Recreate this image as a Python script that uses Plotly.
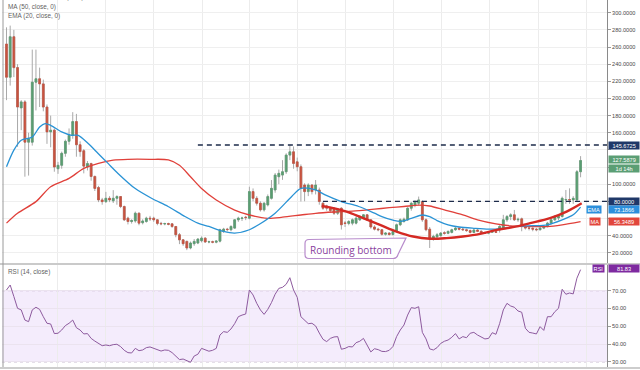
import numpy as np
import pandas as pd
import plotly.graph_objects as go

# ---------------- data (weekly LTC) ----------------
start_week = "2017-12-25"
opens = [263.5, 224.8, 272, 236, 189, 196, 149, 149, 219, 223, 217, 190, 161, 163, 118, 122, 136, 150, 157, 173,
         146, 139, 120, 124, 109, 96, 81.6, 79.6, 83.5, 80.5, 83.5, 85.5, 73.9, 60.3, 56.4, 57, 66.1, 55, 56.4, 60.3,
         60.3, 58.4, 54.2, 53.5, 54, 53.7, 50.6, 41, 35, 33.2, 25.5, 30.5, 31.3, 34, 37, 32.5, 32.8, 32.3, 33.5, 44.8,
         47.5, 46.8, 48.7, 58.4, 60, 61.5, 60.3, 91.3, 83.5, 77.7, 70, 75.8, 83.5, 93.2, 108.7, 110.6, 114.5, 133.9, 137.7, 126,
         120.3, 99, 91.3, 99, 93.2, 93.2, 77.7, 74.6, 71.9, 71.9, 66.1, 71.9, 54.8, 54.2, 54.5, 54.5, 58.4, 60.3, 64.2, 58.4,
         50, 47.5, 46.8, 41.5, 42.9, 41.2, 44.8, 52.6, 56.4, 58.4, 71.9, 75.8, 77.7, 79.7, 58.4, 47.5, 37.1, 38.5, 40, 43.3,
         42.6, 43.7, 46.8, 48.7, 47.5, 46.8, 45.8, 43.7, 46.5, 45, 43.2, 42.8, 44, 44.6, 46.5, 48.7, 58.4, 62.2, 64.2, 58.4,
         59.5, 50.6, 48.7, 48.5, 47.5, 46.8, 48.7, 50.6, 54.5, 58.4, 60.5, 62.2, 81.6, 82, 81.6, 81.6, 114.5]
highs = [283, 285, 280, 240, 198, 198, 160, 257, 257, 236, 222, 193, 180, 165, 126, 138, 152, 165, 184, 182,
         150, 141, 127, 125, 110, 98, 84, 91, 86, 93, 87, 86, 75, 62, 59, 68, 67, 59, 62, 63,
         62, 59, 56, 55, 55, 54, 51, 43, 36, 34, 33, 36, 37, 39, 38, 34, 34, 34.5, 48, 49,
         49, 52, 59, 62, 62, 63, 97, 95, 86, 80, 79, 88, 104.8, 113, 117, 128, 136, 145.5, 144, 131,
         123, 101, 101, 100, 104.8, 96, 79, 76, 73, 73, 72, 73, 57, 58, 60, 62.2, 64, 65, 65, 59,
         52, 49, 47.5, 44, 44, 45.5, 54, 60, 61, 73, 79, 81, 85.5, 81, 60, 50, 41, 43, 44, 45,
         46, 48, 50, 50, 49, 48, 47, 47.5, 47.5, 46, 44.5, 45, 45.5, 46, 52, 64.2, 64, 66, 69.9, 61,
         61, 52, 50, 49.5, 49, 50, 52, 56, 60, 64, 64, 85.5, 93.2, 95.1, 86, 116.4, 132.7]
lows = [198, 215, 225, 143.5, 163, 108.7, 110, 145, 186, 190, 185, 147, 143, 114.5, 112, 118, 132, 146, 153, 132,
        132, 112.6, 116, 104, 92, 79, 76, 78, 79, 78, 76, 72, 57, 53, 54, 55, 52, 53, 55, 57,
        56, 52, 52, 52, 52, 49, 38, 30, 28, 23, 24, 28, 30, 32, 31.5, 31, 31, 31, 32, 43,
        45, 45, 48, 56, 57, 58, 59, 80, 75, 68, 68, 74, 82, 90, 100, 105, 112, 128, 118, 115,
        79.7, 80, 86, 88, 88, 76, 70, 69, 67, 64, 64, 47, 50, 52, 52, 53, 57, 59, 57, 48,
        46, 45, 40, 40, 40, 40, 43.5, 51, 55, 57, 69, 73, 75, 56, 45, 25.5, 34, 37, 38.5, 41,
        41.5, 42.5, 45.5, 46, 45.5, 44.5, 42.5, 43, 44, 42, 42, 41.5, 43, 43, 43.5, 48, 56, 58, 57, 56,
        45, 47, 46, 45, 45, 46, 47.5, 49.5, 53, 57, 58, 61, 77, 77, 77, 79, 108]
closes = [224.8, 272, 236, 190, 196, 149, 153, 219, 223, 217, 190, 161, 163, 120, 122, 136, 150, 157, 173, 146,
          138, 121, 124, 109, 95, 81.6, 79.6, 83.5, 81.6, 83.5, 85.5, 73.9, 58.4, 56.4, 57.5, 66.1, 54.5, 57, 60.3, 59.5,
          58.4, 54.2, 53.7, 54, 53.2, 50.6, 41, 35, 30.5, 25.5, 31.3, 33.2, 35.9, 37, 32.5, 32.8, 32.3, 33.5, 46.8, 47.5,
          47, 50.6, 58.4, 60.3, 60.5, 61, 91.3, 83.5, 77.7, 70, 77.7, 85.5, 95.1, 110.6, 112.6, 114.5, 133.9, 137.7, 124.2, 120.3,
          95.1, 91.3, 99, 91.3, 99, 79.7, 71.9, 71.9, 69.2, 66.1, 70.8, 52.6, 54.2, 56.4, 58.4, 60.3, 62.2, 64.2, 58.4, 50,
          47.5, 46.8, 41.5, 42.9, 41.2, 44.8, 52.6, 58.4, 59.1, 71.9, 77.7, 79.7, 81.6, 58.4, 46.8, 37.1, 39, 41, 42.9, 42.6,
          44.8, 46.8, 48.7, 47.5, 46.8, 45.8, 43.7, 46.5, 45, 43.2, 42.8, 44, 44.6, 43.8, 50.6, 58.4, 62.2, 64.2, 58.4, 59,
          50.6, 48.7, 48.5, 47.5, 46.8, 48.7, 50.6, 54.5, 58.4, 62.2, 62.2, 83.5, 82, 81.6, 83.5, 114.5, 127.59]

rsi = [70.4, 73.2, 66.7, 60.1, 59.2, 53.5, 52.6, 59.2, 60.7, 59.5, 55.4, 51.7, 51.3, 45.9, 46.1, 47.9, 50.4, 51.7, 53.5, 49.2,
       47.9, 45.7, 45.9, 43.2, 41.7, 40.2, 39.1, 39.5, 39.1, 39.7, 39.9, 38.6, 36.5, 35.2, 35.0, 37.6, 36.3, 36.7, 38.0, 38.4,
       37.6, 36.5, 36.1, 36.7, 36.5, 35.2, 33.5, 31.3, 31.6, 30.5, 29.8, 33.3, 34.3, 37.6, 36.7, 36.0, 36.5, 37.6, 45.1, 47.0,
       46.6, 48.5, 51.5, 55.4, 56.3, 56.9, 70.4, 67.6, 62.9, 59.2, 56.7, 59.5, 63.3, 68.0, 71.3, 71.9, 73.6, 77.3, 70.4, 66.3,
       55.4, 53.7, 51.5, 51.7, 50.2, 46.2, 42.7, 41.4, 43.2, 44.0, 44.2, 37.1, 37.6, 38.6, 38.4, 40.8, 41.6, 43.2, 39.5, 35.6,
       37.4, 36.9, 35.9, 35.8, 36.5, 38.6, 44.2, 47.9, 50.7, 56.3, 60.5, 60.1, 61.0, 46.6, 42.9, 37.3, 36.7, 38.0, 40.4, 41.6,
       42.3, 43.8, 45.9, 42.9, 44.2, 43.6, 46.1, 46.6, 45.1, 44.0, 42.9, 43.2, 46.4, 45.5, 51.5, 59.2, 62.9, 61.4, 60.7, 58.6,
       57.9, 48.9, 46.6, 46.2, 45.7, 49.8, 47.7, 55.4, 55.4, 58.2, 60.1, 70.8, 68.0, 68.7, 68.2, 77.0, 81.83]

ma50_week = [0, 3, 8, 12, 17, 21, 25, 29, 33, 39, 44, 47, 50, 53, 57, 62, 66, 71, 75, 80, 84, 89, 94, 100, 104,
             108, 112, 115, 119, 124, 128, 133, 137, 142, 147, 151, 156]
ma50_val = [54.5, 66, 79.6, 97, 106.7, 118.4, 124.2, 128, 129, 129, 128.3, 122, 108.7, 95, 81.5, 69.8, 64, 60.1, 61.4,
            64, 66, 67.5, 68.5, 70.8, 72.5, 73.9, 75.5, 74.5, 70, 64.2, 58.4, 53.7, 51.4, 50.5, 50.5, 52.6, 56.35]

ema20_week = [0, 2, 4, 7, 9, 10.5, 12, 15, 17.7, 19.5, 22.2, 24.9, 27.6, 30.3, 34.9, 39.4, 43.9, 48.5, 52, 55, 59,
              62, 66, 68.5, 73, 77.5, 80, 84, 86.6, 91, 95.7, 100, 102, 105, 107, 110, 113, 115, 117, 120, 123, 127,
              131, 135, 139, 143, 147, 151, 154, 156]
ema20_val = [120.3, 139.7, 151.2, 155, 166.7, 170.6, 168.7, 161, 157, 157, 147.4, 135.8, 124.2, 112.5, 95.1, 83.5, 73.9,
             62.2, 54.5, 50.6, 44.8, 42.9, 46.8, 52.6, 66.1, 85.5, 95.1, 93.2, 87.4, 79.7, 73.9, 66.1, 62.2, 58, 56.5,
             60, 64, 62, 57.5, 52.5, 50, 48.5, 47.5, 48.5, 51, 51.5, 52.6, 58.4, 64.2, 73.19]

arc_week = [85.65, 92.4, 96.9, 101.5, 106.0, 110.5, 115.1, 119.6, 124.0, 128.7, 133.2, 137.6, 142.3, 147.7, 152.2, 156.3]
arc_val = [74.6, 68, 60.3, 52.5, 44.7, 38.9, 36.3, 37, 38.9, 42, 46.7, 49.8, 54.5, 60.3, 68, 77.7]

price_ticks = [20, 40, 60, 80, 100, 120, 140, 160, 180, 200, 220, 240, 260, 280, 300]
# labels hidden under the price tags on the axis are left blank
price_tick_labels = ["20.0000", "40.0000", "", "", "100.0000", "", "", "160.0000", "180.0000", "200.0000",
                     "220.0000", "240.0000", "260.0000", "280.0000", "300.0000"]
rsi_ticks = [30, 40, 50, 60, 70]
rsi_tick_labels = ["30.00", "40.00", "50.00", "60.00", "70.00"]
resistance = 145.6725
resistance_from_week = 52
support = 80.0
support_from_week = 86
last_close = 127.5879
ema_last = 73.1866
ma_last = 56.3489
rsi_last = 81.83
title_text = "Litecoin / TetherUS, 1W, BINANCE"

# ---------------- geometry ----------------
W, H = 640, 370
ML, MR, MT, MB = 2, 33, 0, 3
PW, PH = W - ML - MR, H - MT - MB


def pxx(px):
    return (px - ML) / PW


def pxy(py):
    return (H - MB - py) / PH


t0 = pd.Timestamp(start_week)
dates = pd.date_range(t0, periods=len(opens), freq="7D")


def wk(w):
    return t0 + pd.Timedelta(days=7 * w)


px_per_week = 3.68
x_start = t0 - pd.Timedelta(days=(6.5 - ML) / px_per_week * 7)
x_end = x_start + pd.Timedelta(days=PW / px_per_week * 7)

RED = "#c8533f"
GREEN = "#5a9e72"
WICK = "#a9a9a9"

o = np.array(opens)
c = np.array(closes)

fig = go.Figure()
# wicks
fig.add_trace(go.Candlestick(
    x=dates, open=opens, high=highs, low=lows, close=closes,
    increasing=dict(line=dict(color=WICK, width=1), fillcolor=WICK),
    decreasing=dict(line=dict(color=WICK, width=1), fillcolor=WICK),
    whiskerwidth=0, xaxis="x", yaxis="y", hoverinfo="skip", showlegend=False))
# bodies
fig.add_trace(go.Candlestick(
    x=dates, open=opens, high=np.maximum(o, c), low=np.minimum(o, c), close=closes,
    increasing=dict(line=dict(color=GREEN, width=0.6), fillcolor=GREEN),
    decreasing=dict(line=dict(color=RED, width=0.6), fillcolor=RED),
    whiskerwidth=0, xaxis="x", yaxis="y", hoverinfo="skip", showlegend=False))

fig.add_trace(go.Scatter(x=[wk(w) for w in ma50_week], y=ma50_val, mode="lines",
                         line=dict(color="#e0403a", width=1.3, shape="spline", smoothing=0.8),
                         xaxis="x", yaxis="y", showlegend=False))
fig.add_trace(go.Scatter(x=[wk(w) for w in ema20_week], y=ema20_val, mode="lines",
                         line=dict(color="#2a93d5", width=1.3, shape="spline", smoothing=0.8),
                         xaxis="x", yaxis="y", showlegend=False))
fig.add_trace(go.Scatter(x=[wk(w) for w in arc_week], y=arc_val, mode="lines",
                         line=dict(color="#d42a24", width=2.4, shape="spline", smoothing=1.0),
                         xaxis="x", yaxis="y", showlegend=False))

fig.add_trace(go.Scatter(x=dates, y=rsi, mode="lines",
                         line=dict(color="#8d5a9e", width=1),
                         xaxis="x2", yaxis="y2", showlegend=False))

shapes = []
# RSI band
shapes.append(dict(type="rect", xref="paper", yref="y2", x0=0, x1=1, y0=30, y1=70,
                   fillcolor="rgba(150, 70, 230, 0.10)", line=dict(width=0), layer="below"))
for lv in (30, 70):
    shapes.append(dict(type="line", xref="paper", yref="y2", x0=0, x1=1, y0=lv, y1=lv,
                       line=dict(color="#b9a7c4", width=1, dash="3px,3px"), layer="below"))
# horizontal levels
shapes.append(dict(type="line", xref="x", yref="y", x0=wk(resistance_from_week), x1=x_end,
                   y0=resistance, y1=resistance, line=dict(color="#1d2b4a", width=1.3, dash="5px,4px")))
shapes.append(dict(type="line", xref="x", yref="y", x0=wk(support_from_week), x1=x_end,
                   y0=support, y1=support, line=dict(color="#1d2b4a", width=1.3, dash="5px,4px")))
# pane separator and borders
shapes.append(dict(type="line", xref="paper", yref="paper", x0=-0.01, x1=1.06, y0=pxy(264), y1=pxy(264),
                   line=dict(color="#b8b8b8", width=1.6)))
shapes.append(dict(type="line", xref="paper", yref="paper", x0=-0.01, x1=1.06, y0=pxy(368), y1=pxy(368),
                   line=dict(color="#bdbdbd", width=1.6)))
shapes.append(dict(type="line", xref="paper", yref="paper", x0=pxx(3), x1=pxx(3), y0=0, y1=1,
                   line=dict(color="#9a9a9a", width=1)))

# "Rounding bottom" callout box (pixel geometry)
bx0, bx1, by0, by1, r = 305, 398, 239.5, 258.5, 4


def P(px, py):
    return f"{pxx(px):.5f},{pxy(py):.5f}"


path = ("M " + P(bx0 + r, by0) + " L " + P(406, by0 - 1.5) + " L " + P(bx1, by1 - r) +
        " Q " + P(bx1 - 1, by1) + " " + P(bx1 - r - 1, by1) +
        " L " + P(bx0 + r, by1) + " Q " + P(bx0, by1) + " " + P(bx0, by1 - r) +
        " L " + P(bx0, by0 + r) + " Q " + P(bx0, by0) + " " + P(bx0 + r, by0) + " Z")
shapes.append(dict(type="path", xref="paper", yref="paper", path=path,
                   fillcolor="rgba(255,255,255,0.95)", line=dict(color="#b88ccc", width=1.2)))

SMALL = "Liberation Sans"
ann = []


def txt(text, px, py, size, color, anchor="left", family=SMALL):
    ann.append(dict(text=text, xref="paper", yref="paper", x=pxx(px), y=pxy(py),
                    xanchor=anchor, yanchor="middle", showarrow=False,
                    font=dict(size=size, color=color, family=family)))


txt(title_text, 6, -2.5, 7, "#444")
txt("MA (50, close, 0)", 6, 7, 6.4, "#5f5f5f")
txt("EMA (20, close, 0)", 6, 16, 6.4, "#5f5f5f")
txt("RSI (14, close)", 6, 272, 6.4, "#5f5f5f")
txt("Rounding bottom", 351, 249.5, 10, "#8a3f9e", anchor="center", family="Open Sans")


def box(text, yval, yref, bg, fg="white"):
    ann.append(dict(text=text, xref="paper", yref=yref, x=1, y=yval, xanchor="left", yanchor="middle",
                    xshift=1, showarrow=False, bgcolor=bg, borderpad=0.6, width=29,
                    font=dict(size=5.6, color=fg, family=SMALL)))


def tag(text, yval, yref, bg, px_right):
    ann.append(dict(text=text, xref="paper", yref=yref, x=pxx(px_right), y=yval, xanchor="right",
                    yanchor="middle", showarrow=False, bgcolor=bg, borderpad=0.6,
                    font=dict(size=5.6, color="white", family=SMALL)))


NAVY = "#1f3868"
box(f"{resistance:.4f}", resistance, "y", NAVY)
box(f"{last_close:.4f}", last_close + 0.6, "y", "#5b9e74")
box("1d 14h", 118, "y", "#5b9e74")
box(f"{support:.4f}", support, "y", NAVY)
box(f"{ema_last:.4f}", 70.6, "y", "#2c8fdc")
tag("EMA", 70.6, "y", "#2c8fdc", 602)
box(f"{ma_last:.4f}", ma_last, "y", "#e2463c")
tag("MA", ma_last, "y", "#e2463c", 601)
box(f"{rsi_last:.2f}", 82.2, "y2", "#7e2aa0")
tag("RSI", 82.2, "y2", "#7e2aa0", 605)

quarters = pd.date_range("2018-04-01", "2021-01-01", freq="QS")

xcommon = dict(range=[x_start, x_end], type="date", showticklabels=False, ticks="",
               tickvals=quarters, showgrid=True, gridcolor="#ececec", gridwidth=1,
               zeroline=False, showline=False, rangeslider=dict(visible=False))

fig.update_layout(
    width=W, height=H, margin=dict(l=ML, r=MR, t=MT, b=MB),
    paper_bgcolor="white", plot_bgcolor="white", showlegend=False,
    xaxis=dict(anchor="y", **xcommon),
    xaxis2=dict(anchor="y2", matches="x", **xcommon),
    yaxis=dict(domain=[pxy(263), 1], range=[7.98, 314.9], side="right", tickvals=price_ticks,
               ticktext=price_tick_labels, ticks="outside", ticklen=3, tickcolor="#9a9a9a",
               showline=True, linecolor="#8a8a8a", linewidth=1, showgrid=True, gridcolor="#efefef",
               zeroline=False, tickfont=dict(size=5.6, color="#4a4a4a", family=SMALL)),
    yaxis2=dict(domain=[0, pxy(265)], range=[27.13, 84.44], side="right", tickvals=rsi_ticks,
                ticktext=rsi_tick_labels, ticks="outside", ticklen=3, tickcolor="#9a9a9a",
                showline=True, linecolor="#8a8a8a", linewidth=1, showgrid=True, gridcolor="#ebe3ef",
                zeroline=False, tickfont=dict(size=5.6, color="#4a4a4a", family=SMALL)),
    shapes=shapes, annotations=ann,
)

fig.write_html(
    "out.html",
    config={"displayModeBar": False, "staticPlot": True},
    post_script="document.body.style.margin='0';document.body.style.padding='0';"
                "document.body.style.overflow='hidden';document.documentElement.style.overflow='hidden';",
)
